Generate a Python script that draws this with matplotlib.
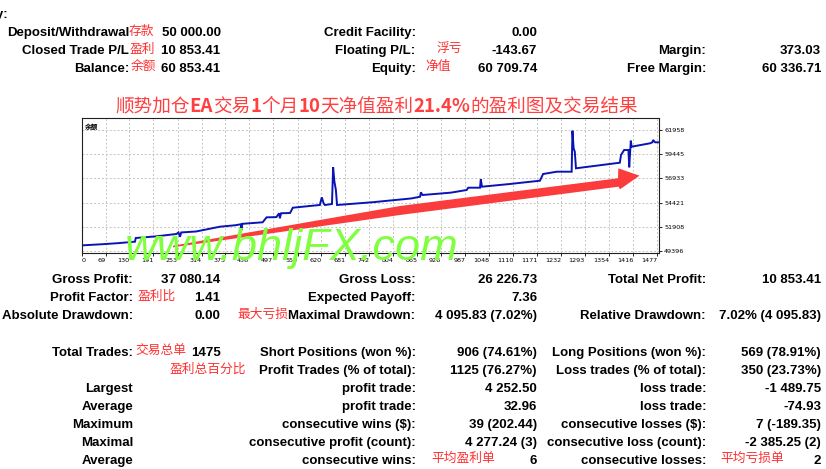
import matplotlib
matplotlib.use("Agg")
import matplotlib.pyplot as plt
from matplotlib.patches import Polygon
from matplotlib.offsetbox import TextArea, HPacker, AnnotationBbox

# ---------------- data ----------------
trade_idx = [8, 60, 100, 144, 146, 200, 250, 255, 259, 262, 300, 361, 400, 414, 416, 418,
             470, 480, 505, 512, 514, 517, 540, 547, 600, 616, 621, 626, 629, 647, 650,
             653, 657, 660, 750, 850, 872, 874, 878, 950, 991, 995, 1025, 1027, 1030,
             1100, 1178, 1186, 1221, 1259, 1261, 1264, 1267, 1270, 1382, 1385, 1393,
             1404, 1406, 1410, 1412, 1459, 1465, 1467, 1472, 1482]
balance = [49950, 50070, 50180, 50335, 50720, 50900, 51140, 51300, 50850, 51300, 51400,
           51900, 52050, 52150, 51560, 52200, 52360, 52876, 52900, 53300, 52780, 53300,
           53330, 53880, 54100, 54164, 54967, 54300, 54164, 54268, 58097, 56668, 55729,
           54164, 54450, 54850, 55029, 55489, 55207, 55450, 55729, 55969, 55969, 56845,
           56073, 56350, 56699, 57398, 57638, 57638, 61916, 60080, 59725, 57993, 58577,
           59381, 59902, 59902, 58097, 60872, 60246, 60601, 60700, 60945, 60706, 60705]

x_ticks = [69, 130, 191, 253, 314, 375, 436, 497, 559, 620, 681, 742, 804, 865, 926,
           987, 1048, 1110, 1171, 1232, 1293, 1354, 1416, 1477]
y_ticks = [49396, 51908, 54421, 56933, 59445, 61958]

title_parts = ["顺势加仓", "EA", "交易", "1", "个月", "10", "天净值盈利", "21.4%", "的盈利图及交易结果"]

top_c1_labels = ["Deposit/Withdrawal", "Closed Trade P/L", "Balance:"]
top_c1_values = ["50 000.00", "10 853.41", "60 853.41"]
top_c2_labels = ["Credit Facility:", "Floating P/L:", "Equity:"]
top_c2_values = ["0.00", "-143.67", "60 709.74"]
top_c3_labels = ["", "Margin:", "Free Margin:"]
top_c3_values = ["", "373.03", "60 336.71"]

bot_c1_labels = ["Gross Profit:", "Profit Factor:", "Absolute Drawdown:", "Total Trades:", "",
                 "Largest", "Average", "Maximum", "Maximal", "Average"]
bot_c1_values = ["37 080.14", "1.41", "0.00", "1475", "", "", "", "", "", ""]
bot_c2_labels = ["Gross Loss:", "Expected Payoff:", "Maximal Drawdown:", "Short Positions (won %):",
                 "Profit Trades (% of total):", "profit trade:", "profit trade:",
                 "consecutive wins ($):", "consecutive profit (count):", "consecutive wins:"]
bot_c2_values = ["26 226.73", "7.36", "4 095.83 (7.02%)", "906 (74.61%)", "1125 (76.27%)",
                 "4 252.50", "32.96", "39 (202.44)", "4 277.24 (3)", "6"]
bot_c3_labels = ["Total Net Profit:", "", "Relative Drawdown:", "Long Positions (won %):",
                 "Loss trades (% of total):", "loss trade:", "loss trade:",
                 "consecutive losses ($):", "consecutive loss (count):", "consecutive losses:"]
bot_c3_values = ["10 853.41", "", "7.02% (4 095.83)", "569 (78.91%)", "350 (23.73%)",
                 "-1 489.75", "-74.93", "7 (-189.35)", "-2 385.25 (2)", "2"]

notes = ["存款", "盈利", "余额", "浮亏", "净值", "盈利比", "最大亏损", "交易总单", "盈利总百分比",
         "平均盈利单", "平均亏损单"]

# ---------------- figure ----------------
W, H = 826, 469
fig = plt.figure(figsize=(W / 100, H / 100), dpi=100)
fig.patch.set_facecolor("white")

L, R, T, B = 81.7, 659.0, 118.0, 252.7
ax = fig.add_axes([L / W, 1 - B / H, (R - L) / W, (B - T) / H])
ax.plot(trade_idx, balance, color="#0a14b4", lw=1.4, solid_joinstyle="miter")
ax.set_xlim(8, 1482)
ax.set_ylim(49187, 63241)
ax.yaxis.tick_right()
ax.set_yticks(y_ticks)
ax.set_yticklabels([str(v) for v in y_ticks])
ax.set_xticks([8] + x_ticks)
ax.set_xticklabels(["0"] + [str(v) for v in x_ticks])
for i, lab in enumerate(ax.get_xticklabels()):
    lab.set_ha("left" if i == 0 else "right")
ax.grid(True, color="#c4c4c4", ls=(0, (2, 2)), lw=0.7)
ax.tick_params(direction="out", length=2.5, width=0.6, labelsize=4.6, pad=1.2, colors="black")
for s in ax.spines.values():
    s.set_color("#202020")
    s.set_linewidth(0.8)
ax.text(0.005, 0.96, "余额", transform=ax.transAxes, fontsize=4.8, fontweight="bold",
        family=["Noto Sans CJK SC", "DejaVu Sans"], va="top", ha="left")

# overlay in pixel coordinates
ov = fig.add_axes([0, 0, 1, 1], zorder=5)
ov.set_xlim(0, W)
ov.set_ylim(H, 0)
ov.axis("off")
ov.patch.set_alpha(0)

FONT = ["Liberation Sans", "DejaVu Sans"]
CJK = ["Noto Sans CJK SC", "DejaVu Sans"]
FS = 9.5
RED = "#ff3030"
BASE = 4.3   # baseline offset below the row centre


def txt(x, y, s, ha="right", **kw):
    if s:
        ov.text(x, y + BASE, s, ha=ha, va="baseline", fontsize=kw.pop("fs", FS),
                family=kw.pop("family", FONT), fontweight=kw.pop("weight", "bold"),
                color=kw.pop("color", "black"), **kw)


txt(8.5, 14, "Summary:")

top_rows = [31.5, 49.5, 67.5]
for i, y in enumerate(top_rows):
    txt(129, y, top_c1_labels[i])
    txt(220.5, y, top_c1_values[i])
    txt(415.5, y, top_c2_labels[i])
    txt(537, y, top_c2_values[i])
    txt(706, y, top_c3_labels[i])
    txt(821, y, top_c3_values[i])

bot_rows = [278.5, 296.5, 314.5, 351.5, 369.5, 387.5, 405.5, 423.5, 441.5, 459.5]
for i, y in enumerate(bot_rows):
    txt(133, y, bot_c1_labels[i])
    txt(220.5, y, bot_c1_values[i])
    txt(415.5, y, bot_c2_labels[i])
    txt(537, y, bot_c2_values[i])
    txt(706, y, bot_c3_labels[i])
    txt(821, y, bot_c3_values[i])

note_pos = [(129, 30.5), (130, 48.5), (131, 66.5), (436.5, 47.5), (425, 65.5),
            (138, 295), (237, 313.5), (135, 350.5), (170, 368.5), (431.5, 457.5), (720, 457.5)]
for s, (x, y) in zip(notes, note_pos):
    txt(x, y, s, ha="left", family=CJK, weight="normal", color=RED, fs=9.2)

# title with mixed weights
children = []
for part in title_parts:
    bold = part.isascii()
    children.append(TextArea(part, textprops=dict(fontsize=13.4, family=CJK, color="#ff4040",
                                                  fontweight="bold" if bold else "normal")))
pack = HPacker(children=children, sep=0, pad=0, align="baseline")
ab = AnnotationBbox(pack, (115, 106.5), xycoords="data", box_alignment=(0, 0.5),
                    frameon=False, pad=0)
ov.add_artist(ab)

# red arrow (hand-drawn annotation)
arrow = [(173, 245.7), (400, 206), (618, 178.3), (618.3, 168.3), (639.5, 175.7),
         (620, 189.3), (618.5, 186.7), (400, 215), (173, 247.3)]
ov.add_patch(Polygon(arrow, closed=True, facecolor="#fb3c3c", edgecolor="none", zorder=3))

# watermark
ov.text(125, 260, "www.bhljFX.com", ha="left", va="baseline", fontsize=32.5, style="italic",
        family=["Liberation Sans", "DejaVu Sans"], color="#80ff40", zorder=4)

fig.savefig("out.png", dpi=100, facecolor="white")
